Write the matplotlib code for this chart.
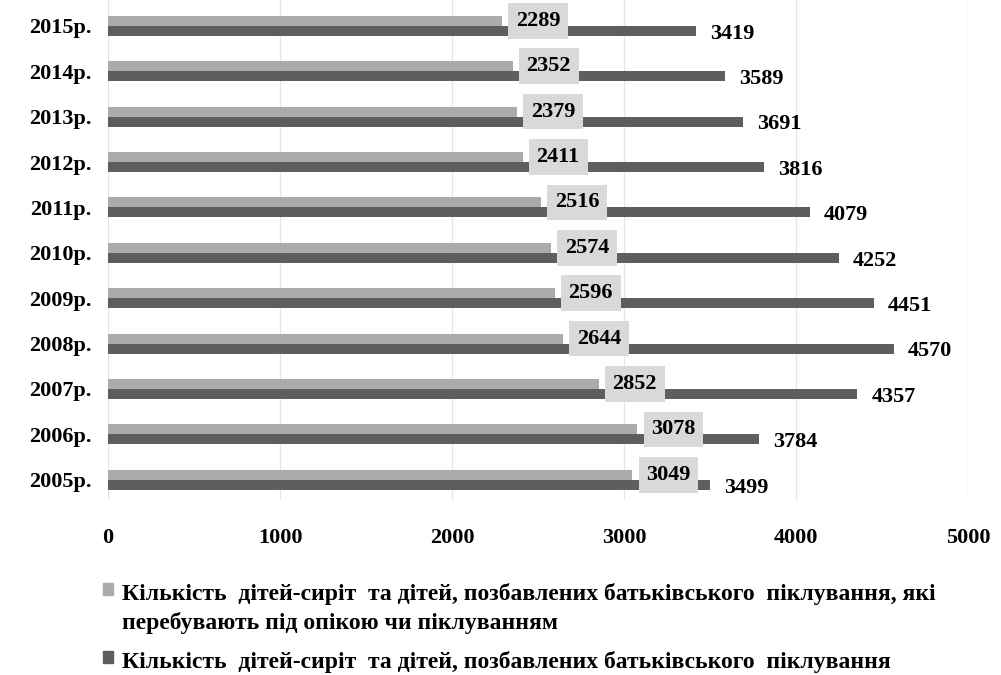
import numpy as np
import matplotlib.pyplot as plt
import matplotlib as mpl
from matplotlib.patches import Patch

mpl.rcParams.update({
    'font.family': ['Liberation Serif', 'DejaVu Serif'],
    'font.weight': 'bold',
})

years = ['2005р.', '2006р.', '2007р.', '2008р.', '2009р.', '2010р.',
         '2011р.', '2012р.', '2013р.', '2014р.', '2015р.']
guardianship = [3049, 3078, 2852, 2644, 2596, 2574, 2516, 2411, 2379, 2352, 2289]
total = [3499, 3784, 4357, 4570, 4451, 4252, 4079, 3816, 3691, 3589, 3419]
label_light = ('Кількість  дітей-сиріт  та дітей, позбавлених батьківського  піклування, які\n'
               'перебувають під опікою чи піклуванням')
label_dark = 'Кількість  дітей-сиріт  та дітей, позбавлених батьківського  піклування'

c_light = '#ababab'
c_dark = '#5e5e5e'

fig = plt.figure(figsize=(10.01, 6.75), dpi=100)
ax = fig.add_axes([0.108, 0.259, 0.859, 0.741])

y = np.arange(len(years))
h = 0.22
ax.barh(y + h/2, guardianship, h, color=c_light, zorder=2)
ax.barh(y - h/2, total, h, color=c_dark, zorder=2)

for yi, v in zip(y, guardianship):
    ax.annotate(f'{v}', (v, yi + h/2), xytext=(10, 0), textcoords='offset points',
                ha='left', va='center', fontsize=16, fontweight='bold', zorder=4,
                bbox=dict(boxstyle='square,pad=0.35', fc='#d9d9d9', ec='none'))
for yi, v in zip(y, total):
    ax.annotate(f'{v}', (v, yi - h/2), xytext=(10, -2), textcoords='offset points',
                ha='left', va='center', fontsize=16, fontweight='bold', zorder=3)

ax.set_xlim(0, 5000)
ax.set_ylim(-0.45, 10.57)
ax.set_xticks(np.arange(0, 5001, 1000))
ax.set_yticks(y)
ax.set_yticklabels(years)
ax.tick_params(axis='both', length=0, labelsize=16)
ax.tick_params(axis='x', pad=20)
ax.tick_params(axis='y', pad=12)
for lab in ax.get_xticklabels() + ax.get_yticklabels():
    lab.set_fontweight('bold')
ax.grid(axis='x', color='#e6e6e6', lw=1, zorder=0)
for s in ax.spines.values():
    s.set_visible(False)

handles = [Patch(color=c_light), Patch(color=c_dark)]
leg = fig.legend(handles, [label_light, label_dark], loc='upper left',
                 bbox_to_anchor=(0.082, 0.168), frameon=False,
                 handlelength=0.42, handleheight=0.42, handletextpad=0.35,
                 labelspacing=0.7, prop={'weight': 'bold', 'size': 17})
for t in leg.get_texts():
    t.set_linespacing(1.45)
# put the marker next to the first line of a two-line label
for col in leg._legend_handle_box.get_children():
    for item in col.get_children():
        item.align = 'top'

fig.savefig('out.png', dpi=100)
